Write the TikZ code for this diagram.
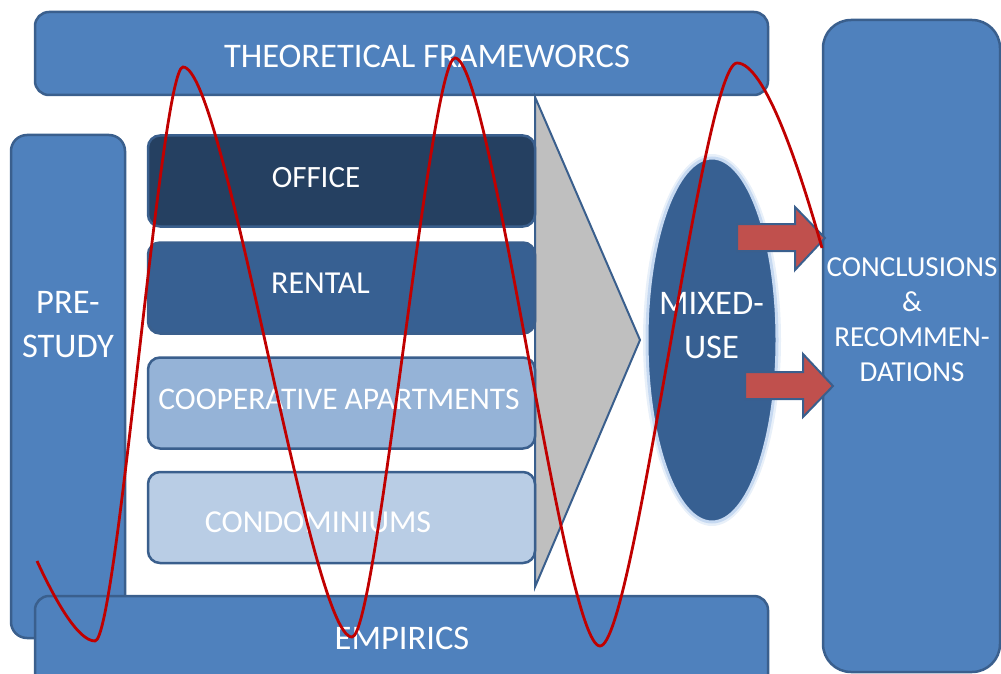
\documentclass[tikz,border=0pt]{standalone}
\usepackage{fontspec}
\setmainfont{Carlito}
\usetikzlibrary{shapes.geometric}
\definecolor{boxblue}{HTML}{4F81BD}
\definecolor{edgeblue}{HTML}{3A5F8D}
\definecolor{officeblue}{HTML}{254061}
\definecolor{rentalblue}{HTML}{376092}
\definecolor{coopblue}{HTML}{95B3D7}
\definecolor{condoblue}{HTML}{B9CDE5}
\definecolor{wedgegray}{HTML}{BFBFBF}
\definecolor{arrowred}{HTML}{C0504D}
\definecolor{wavered}{HTML}{C00000}
\definecolor{glowblue}{HTML}{C6D9F1}
\tikzset{
  stage/.style={draw=edgeblue, line width=2.5pt, rounded corners=14pt, fill=boxblue},
  market/.style={stage, rounded corners=12pt, minimum width=387pt, minimum height=91pt},
  lbl/.style={text=white, inner sep=0pt, anchor=north, align=center,
    font=\fontsize{32}{44}\selectfont},
  framelbl/.style={lbl, font=\fontsize{34.5}{44}\selectfont},
  blockarrow/.style={draw=edgeblue, line width=2pt, fill=arrowred},
}
\begin{document}
\begin{tikzpicture}[x=1pt,y=-1pt]
\useasboundingbox (0,0) rectangle (1001,674);

% outer frame
\node[stage, minimum width=733pt, minimum height=83pt] (theory) at (401.5,53.5) {};
\node[stage, rounded corners=16pt, minimum width=114pt, minimum height=503pt] (prestudy) at (68,386.5) {};
\node[stage, minimum width=733pt, minimum height=124pt] (empirics) at (401.5,658) {};
\node[stage, rounded corners=28pt, minimum width=177pt, minimum height=652pt] (concl) at (911.5,346) {};

% funnel
\draw[draw=edgeblue, line width=2pt, fill=wedgegray] (535,97) -- (640,340) -- (535,587) -- cycle;

% housing markets
\node[market, fill=officeblue] (office) at (341.5,181) {};
\node[market, fill=rentalblue] (rental) at (341.5,288) {};
\node[market, fill=coopblue] (coop) at (341.5,403) {};
\node[market, fill=condoblue] (condo) at (341.5,517.5) {};

% mixed use
\node[ellipse, inner sep=0pt, minimum width=138pt, minimum height=372pt, fill=glowblue, opacity=0.4] (glow) at (712,340) {};
\node[ellipse, inner sep=0pt, minimum width=130pt, minimum height=364pt, fill=rentalblue, draw=glowblue, line width=3pt] (mixed) at (712,340) {};

% arrows
\draw[blockarrow] (737,224) -- (795,224) -- (795,207) -- (825,238) -- (795,270) -- (795,251) -- (737,251) -- cycle;
\draw[blockarrow] (745,372) -- (803,372) -- (803,354) -- (833,386) -- (803,417) -- (803,399) -- (745,399) -- cycle;

% labels
\node[framelbl] (theorytext) at (427,45) {THEORETICAL FRAMEWORCS};
\node[framelbl] (prestudytext) at (68,291) {PRE-\\STUDY};
\node[lbl, font=\fontsize{31}{44}\selectfont] (officetext) at (316,167) {OFFICE};
\node[lbl] (rentaltext) at (320.5,273) {RENTAL};
\node[lbl, font=\fontsize{31.5}{44}\selectfont] (cooptext) at (339,389) {COOPERATIVE APARTMENTS};
\node[lbl] (condotext) at (318,512) {CONDOMINIUMS};
\node[framelbl] (empiricstext) at (402,627) {EMPIRICS};
\node[framelbl] (mixedtext) at (711.5,292) {MIXED-\\USE};
\node[lbl, font=\fontsize{29}{35}\selectfont] (concltext) at (912,257) {CONCLUSIONS\\\&\\RECOMMEN-\\DATIONS};

% iteration wave
\draw[wavered, line width=2.8pt] (37,561) .. controls (55,600) and (78,641) .. (95,641)
  .. controls (117,641) and (161,67) .. (183,67)
  .. controls (225,67) and (310,637) .. (352,637)
  .. controls (377,637) and (430,58) .. (455,58)
  .. controls (491,58) and (564,646) .. (600,646)
  .. controls (634,646) and (703,63) .. (737,63)
  .. controls (765,63) and (800,170) .. (822,248);
\end{tikzpicture}
\end{document}
